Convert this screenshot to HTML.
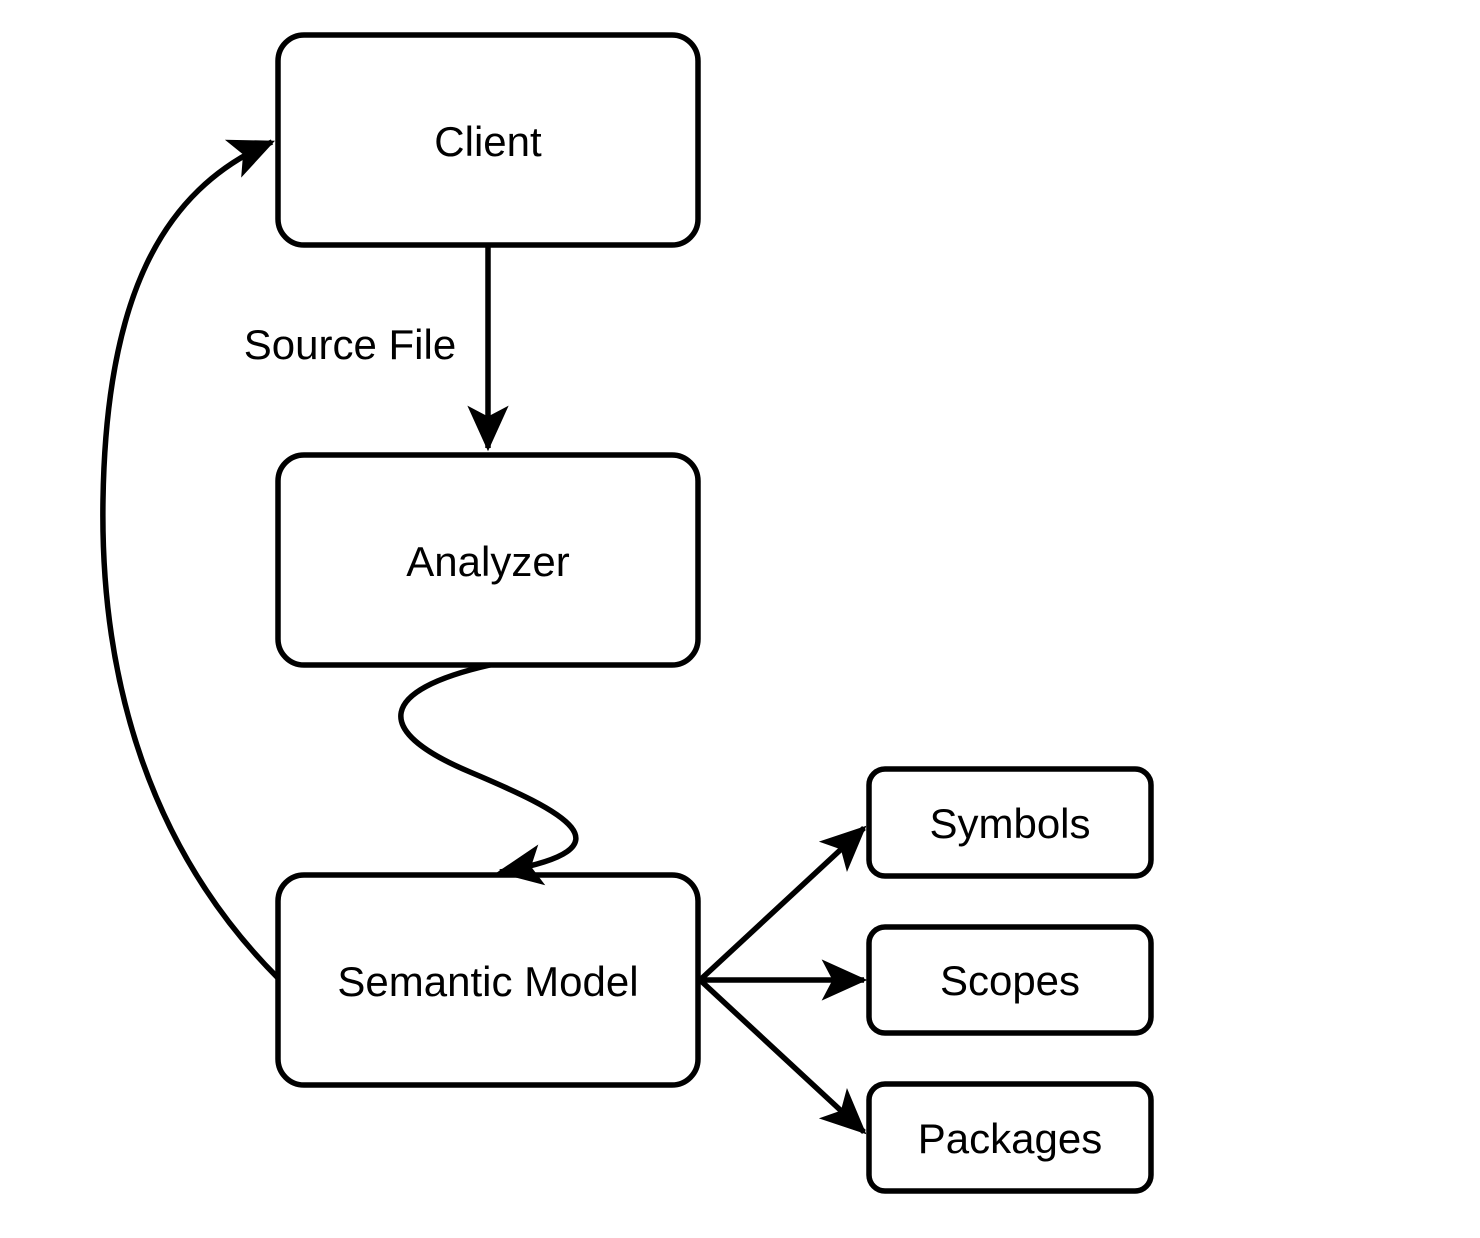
<!DOCTYPE html>
<html><head><meta charset="utf-8"><style>
html,body{margin:0;padding:0;background:#fff;}
svg{display:block;}
text{font-family:"Liberation Sans",Arial,sans-serif;fill:#000;}
</style></head><body>
<svg width="1480" height="1238" viewBox="0 0 1480 1238" xmlns="http://www.w3.org/2000/svg">
<defs>
<marker id="a" markerUnits="userSpaceOnUse" markerWidth="50" markerHeight="50" viewBox="-42 -22 46 44" refX="0" refY="0" orient="auto">
<path d="M3,0 L-39,-19 L-29,0 L-39,19 Z" fill="#000"/>
</marker>
</defs>
<g fill="none" stroke="#000" stroke-width="5.5">
<rect x="278" y="35" width="420" height="210" rx="26"/>
<rect x="278" y="455" width="420" height="210" rx="26"/>
<rect x="278" y="875" width="420" height="210" rx="26"/>
<rect x="869" y="769" width="282" height="107" rx="16"/>
<rect x="869" y="927" width="282" height="106" rx="16"/>
<rect x="869" y="1084" width="282" height="107" rx="16"/>
<path d="M488,245 L488,448" marker-end="url(#a)"/>
<path d="M490,665 C380,690 370,730 470,772 C560,810 640,848 500,872" marker-end="url(#a)"/>
<path d="M278,978 C150,850 100,680 103,500 C106,300 160,190 272,142" marker-end="url(#a)"/>
<path d="M700,980 L864,828" marker-end="url(#a)"/>
<path d="M700,980 L864,980" marker-end="url(#a)"/>
<path d="M700,980 L864,1132" marker-end="url(#a)"/>
</g>
<g font-size="42" text-anchor="middle">
<text x="488" y="156">Client</text>
<text x="488" y="576">Analyzer</text>
<text x="488" y="996">Semantic Model</text>
<text x="350" y="359">Source File</text>
<text x="1010" y="838">Symbols</text>
<text x="1010" y="995">Scopes</text>
<text x="1010" y="1153">Packages</text>
</g>
</svg>
</body></html>
